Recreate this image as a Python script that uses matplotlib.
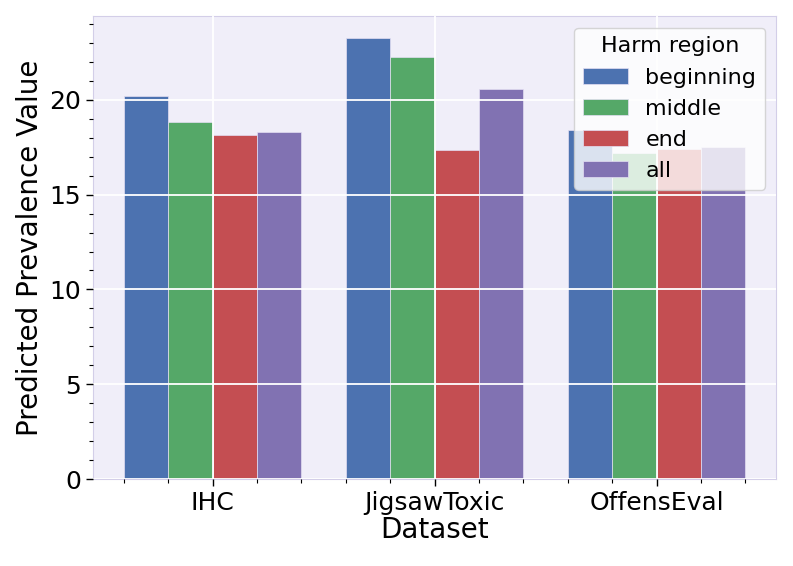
import numpy as np
import matplotlib
matplotlib.use('Agg')
from matplotlib import pyplot as plt

datasets = ["IHC", "JigsawToxic", "OffensEval"]
regions = ["beginning", "middle", "end", "all"]
beginning = [20.2, 23.24, 18.4]
middle = [18.82, 22.25, 17.2]
end = [18.13, 17.33, 17.41]
all_ = [18.29, 20.55, 17.5]
colors = ["#4C72B0", "#55A868", "#C44E52", "#8172B2"]

fig = plt.figure(figsize=(7.93, 5.66), dpi=100)
ax = fig.add_axes([0.117, 0.1537, 0.862, 0.8173])
ax.set_facecolor("#F0EEF9")

x = np.arange(len(datasets))
w = 0.2
for i, (name, vals) in enumerate(zip(regions, [beginning, middle, end, all_])):
    ax.bar(x - 0.3 + i * w, vals, w, label=name, color=colors[i],
           edgecolor="#E4DFF3", linewidth=0.5)

ax.set_xticks(x)
ax.set_xticklabels(datasets)
ax.minorticks_on()
ax.grid(True, which="major", color="white", linewidth=1.3)
ax.set_axisbelow(False)
for s in ax.spines.values():
    s.set_color("#D3CEE8")
ax.tick_params(which="major", labelsize=18, length=5, width=1)
ax.tick_params(which="minor", length=3, width=0.8)
ax.set_xlabel("Dataset", fontsize=20, labelpad=1)
ax.set_ylabel("Predicted Prevalence Value", fontsize=20)

leg = ax.legend(title="Harm region", fontsize=16, title_fontsize=16,
                loc="upper right", framealpha=0.8)
leg.get_frame().set_edgecolor("#CCCCCC")

plt.savefig("out.png", dpi=100)
